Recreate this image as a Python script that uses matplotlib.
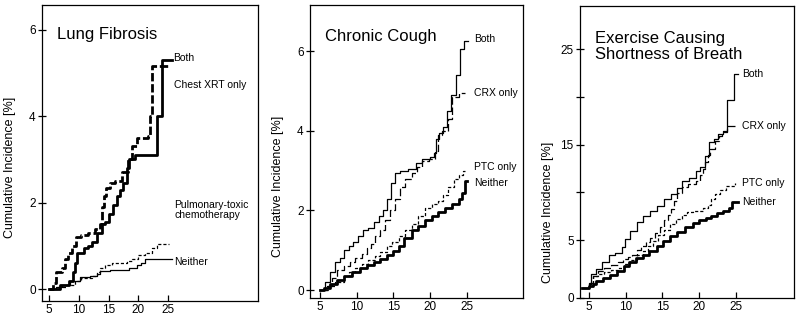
import matplotlib.pyplot as plt

plt.rcParams['font.family'] = ['Liberation Sans', 'DejaVu Sans']

# ---- Lung Fibrosis ----
lf_both_t = [5, 6.9, 8.3, 9.1, 9.4, 9.7, 10.8, 11.6, 12.2, 13.0, 13.9, 14.4, 15.0, 15.8, 16.4, 16.9, 17.5, 18.1, 18.4, 19.5, 23.1, 23.9, 25.6]
lf_both_y = [0, 0.1, 0.2, 0.4, 0.6, 0.85, 0.95, 1.0, 1.1, 1.3, 1.5, 1.55, 1.75, 1.95, 2.15, 2.3, 2.45, 2.8, 3.0, 3.1, 4.0, 5.3, 5.3]
lf_xrt_t = [5, 5.7, 6.2, 7.1, 7.6, 8.2, 8.8, 9.6, 10.4, 11.6, 12.7, 13.5, 13.9, 14.2, 14.6, 15.2, 16.1, 17.2, 18.3, 19.0, 19.7, 21.6, 22.0, 22.3, 25.1]
lf_xrt_y = [0, 0.15, 0.4, 0.5, 0.7, 0.85, 1.0, 1.2, 1.25, 1.3, 1.4, 1.5, 1.9, 2.15, 2.35, 2.45, 2.5, 2.7, 3.0, 3.3, 3.5, 3.55, 4.0, 5.15, 5.15]
lf_ptc_t = [5, 6.5, 7.9, 9.3, 10.4, 12.2, 13.0, 13.6, 14.4, 15.6, 18.1, 19.0, 20.0, 21.1, 22.3, 23.1, 25.1]
lf_ptc_y = [0, 0.05, 0.1, 0.2, 0.25, 0.3, 0.4, 0.5, 0.55, 0.6, 0.65, 0.7, 0.8, 0.85, 0.95, 1.05, 1.05]
lf_nei_t = [5, 6.1, 7.2, 8.5, 10.2, 11.8, 13.0, 13.5, 15.2, 18.4, 19.7, 20.5, 21.1, 25.6]
lf_nei_y = [0, 0.05, 0.1, 0.2, 0.28, 0.3, 0.35, 0.42, 0.45, 0.5, 0.55, 0.6, 0.7, 0.7]

# ---- Chronic Cough ----
cc_both_t = [5, 5.7, 6.4, 7.0, 7.7, 8.2, 8.9, 9.5, 10.2, 10.9, 11.6, 12.3, 13.0, 13.6, 14.1, 14.7, 15.2, 15.9, 17.0, 18.0, 18.9, 20.0, 20.5, 20.8, 21.2, 21.7, 22.3, 22.8, 23.5, 24.1, 24.6, 25.2]
cc_both_y = [0, 0.2, 0.45, 0.7, 0.8, 1.0, 1.1, 1.2, 1.35, 1.5, 1.55, 1.7, 1.85, 2.0, 2.3, 2.7, 2.95, 3.0, 3.05, 3.2, 3.3, 3.35, 3.45, 3.8, 3.95, 4.1, 4.5, 4.9, 5.4, 6.05, 6.25, 6.25]
cc_crx_t = [5, 5.9, 6.6, 7.3, 8.2, 9.1, 9.8, 10.7, 11.4, 12.0, 12.5, 13.2, 13.9, 14.5, 15.2, 15.9, 16.6, 17.5, 18.2, 18.9, 19.8, 20.6, 21.1, 21.6, 22.4, 23.0, 23.9, 24.7]
cc_crx_y = [0, 0.1, 0.3, 0.5, 0.6, 0.7, 0.8, 0.9, 1.05, 1.15, 1.35, 1.5, 1.75, 2.0, 2.3, 2.6, 2.8, 2.95, 3.1, 3.25, 3.3, 3.5, 3.9, 4.0, 4.3, 4.85, 4.95, 4.95]
cc_ptc_t = [5, 6.1, 7.0, 8.2, 8.9, 9.8, 10.7, 11.6, 12.5, 13.2, 14.1, 14.8, 15.7, 16.6, 17.5, 18.4, 19.3, 20.2, 21.1, 21.8, 22.4, 23.2, 23.9, 24.5, 24.8]
cc_ptc_y = [0, 0.1, 0.2, 0.35, 0.45, 0.55, 0.65, 0.75, 0.85, 0.95, 1.1, 1.2, 1.35, 1.5, 1.65, 1.85, 2.05, 2.15, 2.25, 2.4, 2.6, 2.8, 2.9, 3.0, 3.0]
cc_nei_t = [5, 5.5, 6.4, 7.3, 8.2, 9.3, 10.5, 11.4, 12.3, 13.2, 14.1, 15.0, 15.7, 16.4, 17.5, 18.4, 19.3, 20.2, 21.1, 22.0, 22.9, 23.9, 24.3, 24.7, 25.0]
cc_nei_y = [0, 0.05, 0.15, 0.25, 0.35, 0.45, 0.55, 0.62, 0.7, 0.78, 0.88, 0.98, 1.1, 1.3, 1.5, 1.6, 1.75, 1.85, 1.95, 2.05, 2.15, 2.3, 2.45, 2.75, 2.75]

# ---- Exercise Causing Shortness of Breath ----
ex_both_t = [4.0, 5.0, 5.3, 5.9, 6.8, 7.7, 8.6, 9.5, 9.9, 10.6, 11.5, 12.4, 13.3, 14.3, 15.2, 16.1, 17.0, 17.7, 18.6, 19.5, 20.1, 20.8, 21.3, 22.0, 22.6, 23.3, 23.8, 24.8, 25.3]
ex_both_y = [0, 0.4, 1.5, 2.0, 2.7, 3.4, 3.7, 4.3, 5.1, 6.0, 6.9, 7.5, 8.1, 8.6, 9.3, 9.8, 10.5, 11.2, 11.5, 12.2, 12.7, 13.8, 15.3, 15.6, 16.1, 16.4, 19.7, 22.4, 22.4]
ex_crx_t = [4.0, 5.1, 5.5, 6.2, 7.1, 8.0, 8.9, 9.6, 10.3, 10.9, 11.5, 12.1, 12.7, 13.3, 14.0, 14.6, 15.2, 15.7, 16.1, 16.6, 17.0, 17.7, 18.5, 19.5, 20.1, 20.5, 20.8, 21.2, 21.5, 22.2, 22.7, 23.1, 23.8, 25.0]
ex_crx_y = [0, 0.5, 1.3, 1.8, 2.1, 2.4, 2.7, 3.0, 3.2, 3.5, 4.0, 4.4, 4.8, 5.2, 5.8, 6.4, 7.1, 7.6, 8.3, 9.1, 9.9, 10.6, 10.9, 11.2, 11.8, 12.5, 13.2, 13.9, 14.5, 15.4, 15.9, 16.3, 16.9, 16.9]
ex_ptc_t = [4.0, 5.0, 5.5, 6.2, 7.0, 8.0, 9.0, 9.8, 10.6, 11.5, 12.3, 13.0, 13.7, 14.4, 15.2, 16.0, 16.8, 17.6, 18.3, 19.2, 20.5, 21.2, 21.6, 22.2, 22.8, 23.6, 24.9]
ex_ptc_y = [0, 0.5, 1.2, 1.5, 1.7, 1.9, 2.1, 2.5, 2.9, 3.4, 3.9, 4.4, 4.9, 5.5, 6.1, 6.7, 7.2, 7.6, 7.9, 8.1, 8.4, 8.7, 9.3, 9.8, 10.3, 10.7, 11.0]
ex_nei_t = [4.0, 5.0, 5.5, 6.0, 6.9, 7.8, 8.8, 9.7, 10.5, 11.4, 12.3, 13.2, 14.2, 15.1, 16.0, 17.0, 18.0, 19.1, 20.0, 20.9, 21.6, 22.4, 23.2, 24.0, 24.4, 25.3]
ex_nei_y = [0, 0.2, 0.4, 0.7, 1.0, 1.4, 1.8, 2.3, 2.7, 3.1, 3.5, 3.9, 4.4, 4.9, 5.4, 5.9, 6.4, 6.8, 7.1, 7.3, 7.5, 7.8, 8.1, 8.4, 9.0, 9.0]

x_ticks = [5, 10, 15, 20, 25]

thick = 2.0
thin = 0.9
long_dash = (0, (3, 1))
crx_dash = (0, (6, 2.2))
short_dash = (0, (2.5, 1.6))


def setup_axes(ax, xlim, ylim, title, title_y, ylabel_y):
    ax.set_xlim(*xlim)
    ax.set_ylim(*ylim)
    ax.set_xticks(x_ticks)
    ax.tick_params(axis='x', direction='in', length=4.3, width=0.9, labelsize=8.5, pad=2)
    ax.tick_params(axis='y', direction='inout', length=6, width=0.9, labelsize=8.5, pad=1.5)
    for s in ax.spines.values():
        s.set_linewidth(0.9)
    ax.text(0.07, title_y, title, transform=ax.transAxes, fontsize=12,
            va='center', ha='left', linespacing=1.07)
    ax.set_ylabel('Cumulative Incidence [%]', fontsize=9)
    ax.yaxis.set_label_coords(-0.12, ylabel_y)


def label(ax, x, y, text):
    ax.text(x, y, text, fontsize=7.5, va='center', ha='left', linespacing=1.1)


fig = plt.figure(figsize=(8, 3.18), dpi=100)

# Lung Fibrosis
ax1 = fig.add_axes([0.0525, 0.0535, 0.27, 0.931])
ax1.step(lf_nei_t, lf_nei_y, where='post', color='black', lw=thin)
ax1.step(lf_ptc_t, lf_ptc_y, where='post', color='black', lw=thin, linestyle=short_dash)
ax1.step(lf_xrt_t, lf_xrt_y, where='post', color='black', lw=thick, linestyle=long_dash)
ax1.step(lf_both_t, lf_both_y, where='post', color='black', lw=thick)
setup_axes(ax1, (3.82, 40.1), (-0.27, 6.57), 'Lung Fibrosis', 0.90, 0.45)
ax1.set_yticks([0, 2, 4, 6])
label(ax1, 25.9, lf_both_y[-1] + 0.05, 'Both')
label(ax1, 26.0, 4.72, 'Chest XRT only')
label(ax1, 26.0, 1.83, 'Pulmonary-toxic\nchemotherapy')
label(ax1, 26.0, 0.63, 'Neither')

# Chronic Cough
ax2 = fig.add_axes([0.3875, 0.0629, 0.266, 0.921])
ax2.step(cc_both_t, cc_both_y, where='post', color='black', lw=thin)
ax2.step(cc_crx_t, cc_crx_y, where='post', color='black', lw=thin, linestyle=crx_dash)
ax2.step(cc_ptc_t, cc_ptc_y, where='post', color='black', lw=thin, linestyle=short_dash)
ax2.step(cc_nei_t, cc_nei_y, where='post', color='black', lw=thick)
setup_axes(ax2, (3.64, 32.6), (-0.2, 7.16), 'Chronic Cough', 0.894, 0.38)
ax2.set_yticks([0, 2, 4, 6])
label(ax2, 26.0, cc_both_y[-1] + 0.05, 'Both')
label(ax2, 26.0, cc_crx_y[-1], 'CRX only')
label(ax2, 26.0, cc_ptc_y[-1] + 0.1, 'PTC only')
label(ax2, 26.0, cc_nei_y[-1] - 0.05, 'Neither')

# Exercise Causing Shortness of Breath
ax3 = fig.add_axes([0.725, 0.0629, 0.2675, 0.918])
ax3.step(ex_both_t, ex_both_y, where='post', color='black', lw=thin)
ax3.step(ex_crx_t, ex_crx_y, where='post', color='black', lw=thin, linestyle=crx_dash)
ax3.step(ex_ptc_t, ex_ptc_y, where='post', color='black', lw=thin, linestyle=short_dash)
ax3.step(ex_nei_t, ex_nei_y, where='post', color='black', lw=thick)
ex_ylim = (-1.05, 29.5)
setup_axes(ax3, (3.78, 32.9), ex_ylim, 'Exercise Causing\nShortness of Breath', 0.862, 0.295)
ax3.set_yticks([ex_ylim[0], 5, 10, 15, 20, 25])
ax3.set_yticklabels(['0', '5', '', '15', '', '25'])
label(ax3, 25.8, ex_both_y[-1], 'Both')
label(ax3, 25.8, ex_crx_y[-1], 'CRX only')
label(ax3, 25.8, ex_ptc_y[-1], 'PTC only')
label(ax3, 25.8, ex_nei_y[-1], 'Neither')

fig.savefig('out.png', dpi=100)
